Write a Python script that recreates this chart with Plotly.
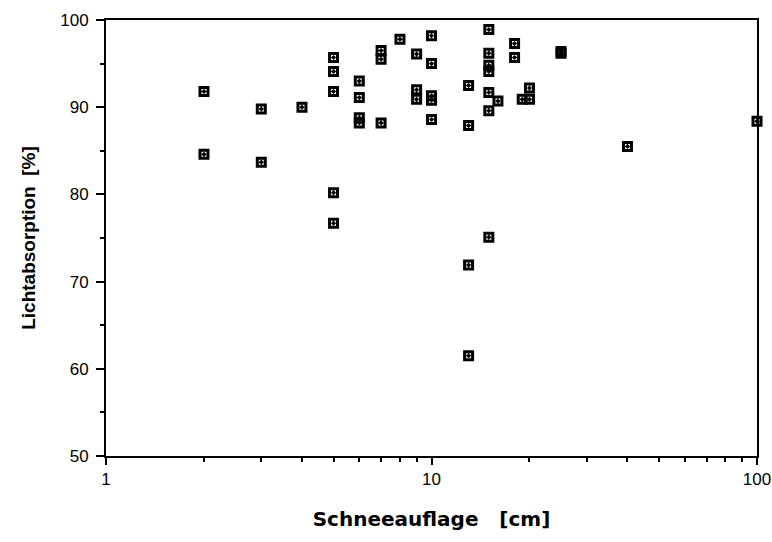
import plotly.graph_objects as go

# Schneeauflage [cm]
snow = [2, 2, 3, 3, 4,
        5, 5, 5, 5, 5,
        6, 6, 6, 6,
        7, 7, 7,
        8,
        9, 9, 9,
        10, 10, 10, 10, 10,
        13, 13, 13, 13,
        15, 15, 15, 15, 15, 15, 15,
        16,
        18, 18,
        19, 20, 20,
        25, 25,
        40, 100]

# Lichtabsorption [%]
absorption = [91.8, 84.6, 89.8, 83.7, 90.0,
              95.7, 94.1, 91.8, 80.2, 76.7,
              93.0, 91.1, 88.8, 88.2,
              96.5, 95.5, 88.2,
              97.8,
              96.1, 92.0, 90.9,
              98.2, 95.0, 91.3, 90.8, 88.6,
              92.5, 87.9, 71.9, 61.5,
              98.9, 96.2, 94.8, 94.1, 91.7, 89.6, 75.1,
              90.7,
              97.3, 95.7,
              90.9, 92.2, 90.9,
              96.2, 96.4,
              85.5, 88.4]

x_major = [1, 10, 100]
x_minor = [2, 3, 4, 5, 6, 7, 8, 9, 20, 30, 40, 50, 60, 70, 80, 90]
y_major = [50, 60, 70, 80, 90, 100]
y_minor = [55, 65, 75, 85, 95]

font_family = "Liberation Sans, Arial, Helvetica, sans-serif"
title_family = "DejaVu Sans, Liberation Sans, Arial, sans-serif"

fig = go.Figure(
    go.Scatter(
        x=snow,
        y=absorption,
        mode="markers",
        cliponaxis=False,
        marker=dict(
            symbol="square-open-dot",
            size=8,
            color="black",
            line=dict(color="black", width=3),
        ),
        showlegend=False,
    )
)

fig.update_layout(
    width=772,
    height=542,
    margin=dict(l=106, r=15, t=20, b=86, autoexpand=False),
    paper_bgcolor="white",
    plot_bgcolor="white",
    font=dict(family=font_family, color="black", size=17),
)

fig.update_xaxes(
    type="log",
    range=[0, 2],
    automargin=False,
    tickmode="array",
    tickvals=x_major,
    ticktext=[str(v) for v in x_major],
    ticks="outside",
    ticklen=7,
    tickwidth=2,
    tickcolor="black",
    showline=True,
    linewidth=2,
    linecolor="black",
    mirror=True,
    showgrid=False,
    zeroline=False,
    tickfont=dict(size=17),
    minor=dict(tickmode="array", tickvals=x_minor, ticks="outside",
               ticklen=4, tickwidth=2, tickcolor="black", showgrid=False),
    title=dict(text="<b>Schneeauflage\u00a0\u00a0\u00a0[cm]</b>",
               font=dict(size=20, family=title_family), standoff=24),
)

fig.update_yaxes(
    range=[50, 100],
    automargin=False,
    tickmode="array",
    tickvals=y_major,
    ticktext=[str(v) for v in y_major],
    ticks="outside",
    ticklen=8,
    tickwidth=2,
    tickcolor="black",
    showline=True,
    linewidth=2,
    linecolor="black",
    mirror=True,
    showgrid=False,
    zeroline=False,
    tickfont=dict(size=17),
    ticklabelstandoff=4,
    minor=dict(tickmode="array", tickvals=y_minor, ticks="outside",
               ticklen=4, tickwidth=2, tickcolor="black", showgrid=False),
    title=dict(text="<b>Lichtabsorption\u00a0\u00a0[%]</b>",
               font=dict(size=19, family=font_family), standoff=20),
)

fig.write_html("out.html")
